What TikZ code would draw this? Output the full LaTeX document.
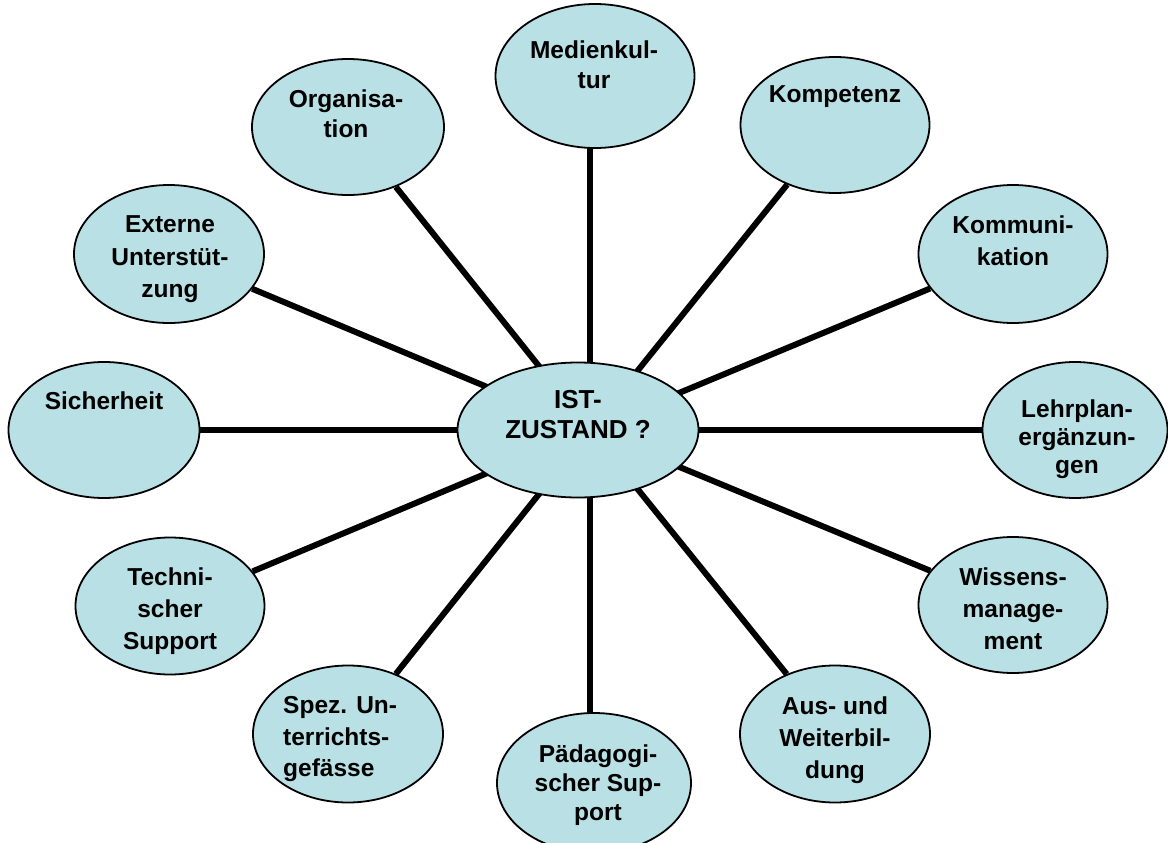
\documentclass[tikz,border=0pt]{standalone}
\usepackage{fontspec}
\setmainfont{Liberation Sans}
\usetikzlibrary{shapes.geometric,backgrounds}
\definecolor{bubblefill}{RGB}{185,224,228}
\begin{document}
\begin{tikzpicture}[x=1bp,y=-1bp,
  bubble/.style={ellipse, draw=black, line width=1.8bp, fill=bubblefill, inner sep=0pt,
                 minimum width=190bp, minimum height=137bp},
  lbl/.style={inner sep=0pt, anchor=north, align=center,
              font=\fontsize{24.5bp}{#1}\selectfont\bfseries},
  lbl/.default=31bp,
  spoke/.style={line width=6bp, black}]
\useasboundingbox (0,0) rectangle (1168,843);
\clip (0,0) rectangle (1168,843);
\coordinate (hub) at (590,430);

% bubbles
\node[bubble, minimum width=241bp, minimum height=135bp] (ist) at (578,430) {};
\node[bubble, minimum width=199bp, minimum height=144bp] (med) at (595,76) {};
\node[bubble, minimum width=192bp, minimum height=136bp] (org) at (348,127) {};
\node[bubble, minimum width=189bp, minimum height=136bp] (kom) at (835,125) {};
\node[bubble, minimum width=190bp, minimum height=138bp] (ext) at (169,254) {};
\node[bubble, minimum width=189bp, minimum height=138bp] (kmu) at (1013,254) {};
\node[bubble, minimum width=191bp, minimum height=136bp] (sic) at (104,430) {};
\node[bubble, minimum width=185bp, minimum height=136bp] (lehr) at (1075,430) {};
\node[bubble, minimum width=189bp, minimum height=137bp] (tech) at (170,606) {};
\node[bubble, minimum width=189bp, minimum height=136bp] (wis) at (1013,605) {};
\node[bubble, minimum width=190bp, minimum height=137bp] (spez) at (348,734) {};
\node[bubble, minimum width=194bp, minimum height=140bp] (ped) at (594,783) {};
\node[bubble, minimum width=190bp, minimum height=137bp] (aus) at (835,734) {};

% spokes behind bubbles
\begin{scope}[on background layer]
  \draw[spoke] (hub) -- (hub |- med.center);
  \draw[spoke] (hub) -- (hub |- ped.center);
  \draw[spoke] (hub) -- (org);
  \draw[spoke] (hub) -- (kom);
  \draw[spoke] (hub) -- (ext);
  \draw[spoke] (hub) -- (kmu);
  \draw[spoke] (hub) -- (sic);
  \draw[spoke] (hub) -- (lehr);
  \draw[spoke] (hub) -- (tech);
  \draw[spoke] (hub) -- (wis);
  \draw[spoke] (hub) -- (spez);
  \draw[spoke] (hub) -- (aus);
\end{scope}

% labels
\node[lbl=30bp, font=\fontsize{26bp}{30bp}\selectfont\bfseries] (tist) at (578,390.5) {IST-\\ZUSTAND ?};
\node[lbl=30bp] (tmed) at (594,40.5) {Medienkul-\\tur};
\node[lbl=30bp] (torg) at (346,89.3) {Organisa-\\tion};
\node[lbl] (tkom) at (835,85.5) {Kompetenz};
\node[lbl=32.5bp] (text) at (170,215.5) {Externe\\Unterstüt-\\zung};
\node[lbl=32bp] (tkmu) at (1013,215.5) {Kommuni-\\kation};
\node[lbl] (tsic) at (104,391.3) {Sicherheit};
\node[lbl=28bp] (tlehr) at (1077,399.5) {Lehrplan-\\ergänzun-\\gen};
\node[lbl=32bp] (ttech) at (170,567.5) {Techni-\\scher\\Support};
\node[lbl=32bp] (twis) at (1013,567.5) {Wissens-\\manage-\\ment};
\node[lbl=31.5bp, anchor=north west, align=left] (tspez) at (283,696.3) {Spez. Un-\\terrichts-\\gefässe};
\node[lbl=29bp] (tped) at (598,745) {Pädagogi-\\scher Sup-\\port};
\node[lbl=32bp] (taus) at (835,696.5) {Aus- und\\Weiterbil-\\dung};
\end{tikzpicture}
\end{document}
